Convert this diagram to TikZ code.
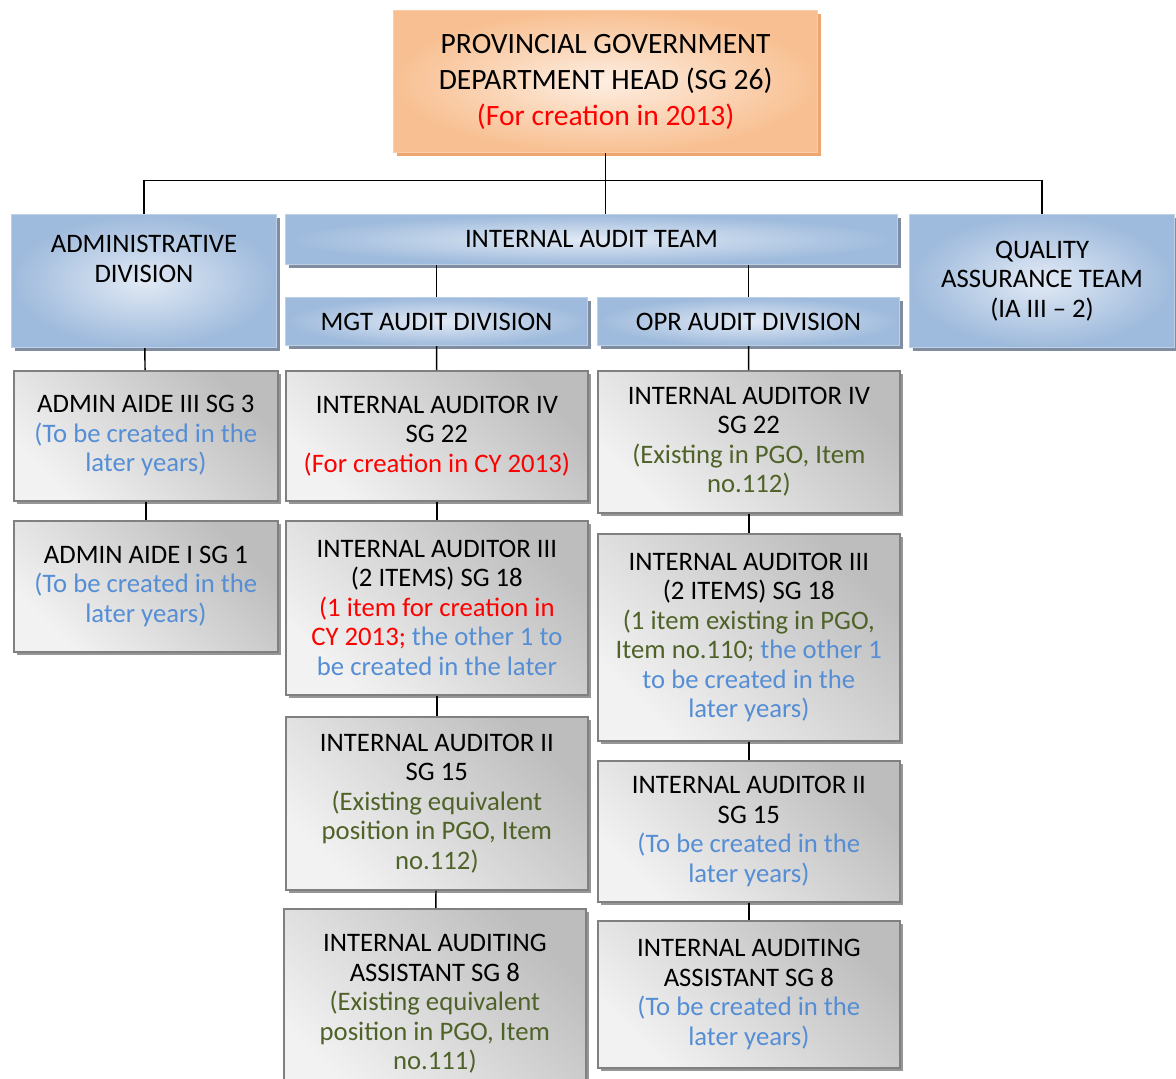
\documentclass[tikz,border=0pt]{standalone}
\usepackage{fontspec}
\setmainfont{Carlito}
\usetikzlibrary{positioning, shadows}
\definecolor{hdorange}{RGB}{248,192,146}
\definecolor{hdlight}{RGB}{253,238,226}
\definecolor{hdedge}{RGB}{250,205,170}
\definecolor{hdshadow}{RGB}{238,166,112}
\definecolor{divblue}{RGB}{158,186,220}
\definecolor{divlight}{RGB}{226,234,245}
\definecolor{divedge}{RGB}{190,208,230}
\definecolor{divshadow}{RGB}{128,140,160}
\definecolor{posedge}{RGB}{128,128,128}
\definecolor{posshadow}{RGB}{150,150,150}
\definecolor{txtred}{RGB}{255,0,0}
\definecolor{txtblue}{RGB}{85,142,213}
\definecolor{txtgreen}{RGB}{79,98,40}
\newcommand{\forcreation}[1]{\textcolor{txtred}{#1}}
\newcommand{\laterpos}[1]{\textcolor{txtblue}{#1}}
\newcommand{\existpos}[1]{\textcolor{txtgreen}{#1}}
\tikzset{
  box/.style={rectangle, anchor=north west, align=center, inner sep=3pt, font=\fontsize{15.2}{16.8}\selectfont},
  headbox/.style={box, draw=hdedge, line width=0.8pt, inner color=hdlight, outer color=hdorange, font=\fontsize{16.8}{20.4}\selectfont,
    drop shadow={shadow xshift=0.07cm, shadow yshift=-0.07cm, fill=hdshadow, opacity=1}},
  divbox/.style={box, draw=divedge, line width=0.6pt, inner color=divlight, outer color=divblue,
    drop shadow={shadow xshift=0.07cm, shadow yshift=-0.07cm, fill=divshadow, opacity=1}},
  posbox/.style={box, draw=posedge, line width=1pt, top color=black!26, bottom color=black!5, shading angle=-45,
    drop shadow={shadow xshift=0.07cm, shadow yshift=-0.07cm, fill=posshadow, opacity=1}},
  link/.style={line width=0.8pt, color=black}
}
\begin{document}
\begin{tikzpicture}[x=0.02cm, y=-0.02cm]
  \useasboundingbox (0,0) rectangle (1176,1078);

  % Head
  \node[headbox, minimum width=8.48cm, minimum height=2.84cm] (head) at (393,10)
    {PROVINCIAL GOVERNMENT\\ DEPARTMENT HEAD (SG 26)\\ \forcreation{(For creation in 2013)}};

  % Divisions and teams
  \node[divbox, minimum width=5.30cm, minimum height=2.66cm] (admin) at (11,214)
    {ADMINISTRATIVE\\ DIVISION\\[0.3cm]};
  \node[divbox, minimum width=12.24cm, minimum height=1.0cm] (iat) at (285,214) {INTERNAL AUDIT TEAM};
  \node[divbox, minimum width=5.30cm, minimum height=2.66cm] (qat) at (909,214)
    {QUALITY\\ ASSURANCE TEAM\\ (IA III -- 2)};
  \node[divbox, minimum width=6.04cm, minimum height=0.96cm] (mgt) at (285,297) {MGT AUDIT DIVISION};
  \node[divbox, minimum width=6.04cm, minimum height=0.96cm] (opr) at (597,297) {OPR AUDIT DIVISION};

  % Administrative positions
  \node[posbox, minimum width=5.28cm, minimum height=2.6cm] (aide3) at (13,370)
    {ADMIN AIDE III SG 3\\ \laterpos{(To be created in the}\\ \laterpos{later years)}};
  \node[posbox, minimum width=5.28cm, minimum height=2.62cm] (aide1) at (13,520)
    {ADMIN AIDE I SG 1\\ \laterpos{(To be created in the}\\ \laterpos{later years)}};

  % MGT audit positions
  \node[posbox, minimum width=6.04cm, minimum height=2.6cm] (mia4) at (285,370)
    {INTERNAL AUDITOR IV\\ SG 22\\ \forcreation{(For creation in CY 2013)}};
  \node[posbox, minimum width=6.04cm, minimum height=3.48cm] (mia3) at (285,520)
    {INTERNAL AUDITOR III\\ (2 ITEMS) SG 18\\ \forcreation{(1 item for creation in}\\
     \forcreation{CY 2013;} \laterpos{the other 1 to}\\ \laterpos{be created in the later}};
  \node[posbox, minimum width=6.04cm, minimum height=3.46cm] (mia2) at (285,716)
    {INTERNAL AUDITOR II\\ SG 15\\ \existpos{(Existing equivalent}\\ \existpos{position in PGO, Item}\\ \existpos{no.112)}};
  \node[posbox, minimum width=6.04cm, minimum height=3.8cm] (miaa) at (283,908)
    {INTERNAL AUDITING\\ ASSISTANT SG 8\\ \existpos{(Existing equivalent}\\ \existpos{position in PGO, Item}\\ \existpos{no.111)}};

  % OPR audit positions
  \node[posbox, minimum width=6.04cm, minimum height=2.84cm] (oia4) at (597,370)
    {INTERNAL AUDITOR IV\\ SG 22\\ \existpos{(Existing in PGO, Item}\\ \existpos{no.112)}};
  \node[posbox, minimum width=6.04cm, minimum height=4.14cm] (oia3) at (597,533)
    {INTERNAL AUDITOR III\\ (2 ITEMS) SG 18\\ \existpos{(1 item existing in PGO,}\\
     \existpos{Item no.110;} \laterpos{the other 1}\\ \laterpos{to be created in the}\\ \laterpos{later years)}};
  \node[posbox, minimum width=6.04cm, minimum height=2.82cm] (oia2) at (597,760)
    {INTERNAL AUDITOR II\\ SG 15\\ \laterpos{(To be created in the}\\ \laterpos{later years)}};
  \node[posbox, minimum width=6.04cm, minimum height=2.94cm] (oiaa) at (597,920)
    {INTERNAL AUDITING\\ ASSISTANT SG 8\\ \laterpos{(To be created in the}\\ \laterpos{later years)}};

  % Connectors
  \draw[link] (head.south) -- ++(0,27) -| (admin.north);
  \draw[link] (head.south) -- ++(0,27) -| (qat.north);
  \draw[link] (head.south) -- (head.south |- iat.north);
  \draw[link] (mgt.north) -- (mgt.north |- iat.south);
  \draw[link] (opr.north) -- (opr.north |- iat.south);
  \draw[link] (admin) -- (aide3);
  \draw[link] (aide3) -- (aide1);
  \draw[link] (mgt) -- (mia4);
  \draw[link] (mia4) -- (mia3);
  \draw[link] (mia3) -- (mia2);
  \draw[link] (mia2) -- (miaa);
  \draw[link] (opr) -- (oia4);
  \draw[link] (oia4) -- (oia3);
  \draw[link] (oia3) -- (oia2);
  \draw[link] (oia2) -- (oiaa);
\end{tikzpicture}
\end{document}
